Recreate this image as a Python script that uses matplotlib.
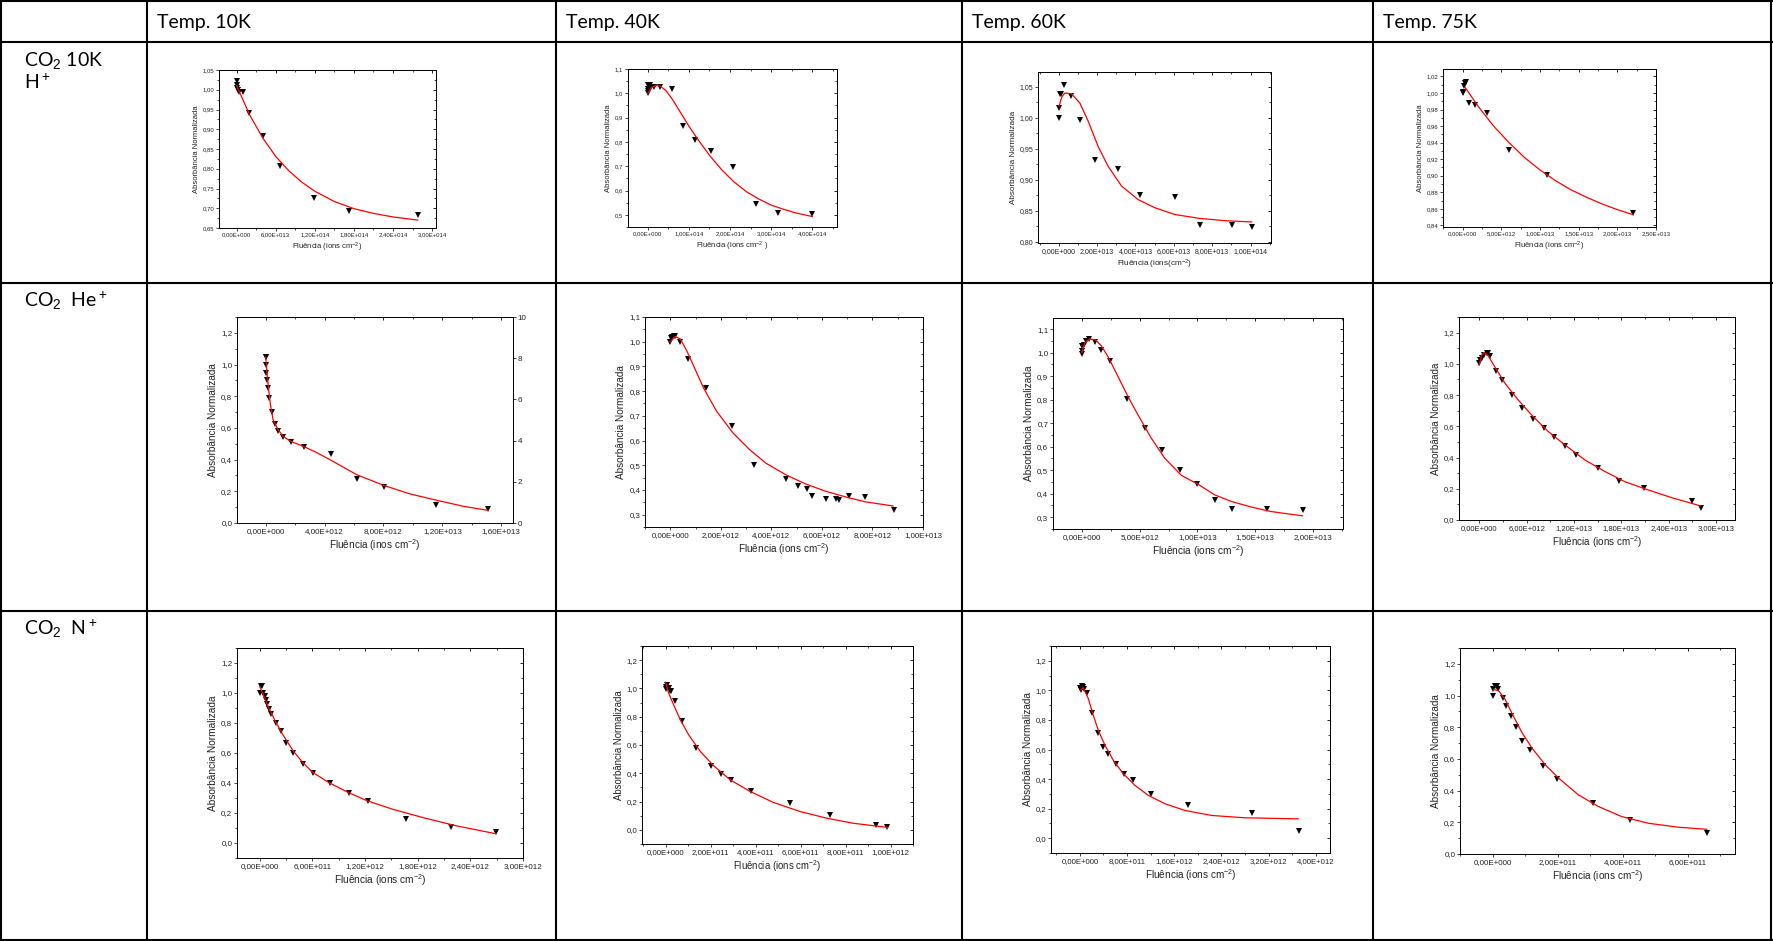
import math
import numpy as np
import matplotlib.pyplot as plt
from matplotlib.ticker import FixedLocator, FuncFormatter, NullFormatter

plt.rcParams['mathtext.fontset'] = 'custom'
plt.rcParams['mathtext.rm'] = 'Liberation Sans'
plt.rcParams['mathtext.it'] = 'Liberation Sans:italic'
plt.rcParams['font.family'] = ['Liberation Sans', 'DejaVu Sans']

W, H = 1773, 941

# ---- table texts ----
col_titles = ["Temp. 10K", "Temp. 40K", "Temp. 60K", "Temp. 75K"]
row_titles = [("CO$_2$ 10K", "H$^+$"), ("CO$_2$  He$^+$", ""), ("CO$_2$  N$^+$", "")]

# ---- CO2 10K H+ ----
x_h10 = [0, 1e12, 0, 1.5e12, 3e12, 9.2e12, 1.95e13, 4.1e13, 6.67e13, 1.19e14, 1.72e14, 2.78e14]
y_h10 = [1.023, 1.012, 1.005, 0.999, 0.995, 0.994, 0.942, 0.884, 0.807, 0.727, 0.694, 0.682]
fx_h10 = [0, 2e13, 4e13, 6e13, 8e13, 1e14, 1.2e14, 1.5e14, 1.8e14, 2.1e14, 2.4e14, 2.78e14]
fy_h10 = [1.01, 0.936, 0.878, 0.831, 0.795, 0.766, 0.743, 0.717, 0.699, 0.687, 0.678, 0.670]

x_h40 = [0, 0, 0, 0, 0.05e14, 0.08e14, 0.15e14, 0.3e14, 0.59e14, 0.85e14, 1.14e14, 1.54e14,
         2.08e14, 2.63e14, 3.17e14, 4.0e14]
y_h40 = [1.035, 1.017, 1.008, 1.001, 1.035, 1.028, 1.028, 1.028, 1.017, 0.866, 0.806, 0.764,
         0.696, 0.543, 0.509, 0.502]
fx_h40 = [0, 0.1e14, 0.2e14, 0.3e14, 0.45e14, 0.6e14, 0.8e14, 1.0e14, 1.2e14, 1.5e14, 1.8e14,
          2.1e14, 2.4e14, 2.7e14, 3.0e14, 3.3e14, 3.6e14, 4.0e14]
fy_h40 = [1.0, 1.025, 1.032, 1.03, 1.01, 0.975, 0.92, 0.865, 0.815, 0.745, 0.685, 0.635, 0.595,
          0.565, 0.54, 0.523, 0.508, 0.493]

x_h60 = [0, 0, 0.05e13, 0.14e13, 0.28e13, 0.63e13, 1.13e13, 1.91e13, 3.1e13, 4.23e13, 6.05e13,
         7.36e13, 9.04e13, 1.009e14]
y_h60 = [0.999, 1.016, 1.038, 1.038, 1.053, 1.036, 0.997, 0.932, 0.918, 0.875, 0.873, 0.827,
         0.827, 0.824]
fx_h60 = [0.02e13, 0.15e13, 0.31e13, 0.66e13, 1.1e13, 1.53e13, 2.05e13, 2.57e13, 3.27e13, 4.14e13,
          5.0e13, 6.05e13, 7.27e13, 8.66e13, 1.005e14]
fy_h60 = [1.019, 1.033, 1.040, 1.039, 1.024, 0.995, 0.954, 0.922, 0.89, 0.868, 0.855, 0.844,
          0.838, 0.834, 0.832]

x_h75 = [0, 0.04e12, 0.13e12, 0.34e12, 0.47e12, 0.86e12, 1.64e12, 3.19e12, 6.03e12, 1.09e13, 2.2e13]
y_h75 = [1.0, 1.001, 1.008, 1.012, 1.013, 0.988, 0.986, 0.976, 0.931, 0.901, 0.855]
fx_h75 = [0.3e12, 2e12, 4e12, 6e12, 8e12, 1e13, 1.2e13, 1.4e13, 1.6e13, 1.8e13, 2.0e13, 2.2e13]
fy_h75 = [1.007, 0.984, 0.960, 0.940, 0.922, 0.907, 0.894, 0.883, 0.874, 0.866, 0.859, 0.853]

# ---- CO2 He+ ----
x_he10 = [0, 0.02e12, 0, 0.05e12, 0.09e12, 0.14e12, 0.23e12, 0.43e12, 0.61e12, 0.82e12, 1.18e12,
          1.73e12, 2.59e12, 4.43e12, 6.18e12, 8.05e12, 1.155e13, 1.51e13]
y_he10 = [1.048, 1.048, 1.0, 0.947, 0.901, 0.85, 0.789, 0.699, 0.627, 0.583, 0.541, 0.512, 0.478,
          0.434, 0.28, 0.225, 0.116, 0.091]
fx_he10 = [0, 0.09e12, 0.2e12, 0.32e12, 0.5e12, 0.84e12, 1.18e12, 1.7e12, 2.55e12, 3.45e12,
           4.36e12, 6.18e12, 8e12, 9.82e12, 1.164e13, 1.345e13, 1.51e13]
fy_he10 = [1.048, 0.947, 0.842, 0.747, 0.653, 0.589, 0.547, 0.515, 0.484, 0.445, 0.40, 0.305,
           0.238, 0.183, 0.143, 0.105, 0.08]

x_he40 = [0, 0.03e12, 0.08e12, 0.16e12, 0.2e12, 0.37e12, 0.72e12, 1.41e12, 2.43e12, 3.31e12,
          4.58e12, 5.05e12, 5.42e12, 5.62e12, 6.18e12, 6.54e12, 6.69e12, 7.08e12, 7.71e12, 8.86e12]
y_he40 = [1.0, 1.014, 1.018, 1.022, 1.022, 1.0, 0.93, 0.814, 0.658, 0.499, 0.444, 0.417, 0.402,
          0.375, 0.365, 0.365, 0.359, 0.375, 0.372, 0.32]
fx_he40 = [0, 0.2e12, 0.39e12, 0.65e12, 0.92e12, 1.31e12, 1.83e12, 2.48e12, 3.14e12, 3.79e12,
           4.58e12, 5.36e12, 6.14e12, 6.93e12, 7.71e12, 8.82e12]
fy_he40 = [1.0, 1.021, 1.012, 0.964, 0.903, 0.814, 0.719, 0.631, 0.563, 0.508, 0.461, 0.424,
           0.395, 0.372, 0.352, 0.335]

x_he60 = [0, 0, 0, 0.17e12, 0.38e12, 0.61e12, 1.1e12, 1.62e12, 2.43e12, 3.93e12, 5.46e12, 6.97e12,
          8.47e12, 1e13, 1.15e13, 1.3e13, 1.6e13, 1.91e13]
y_he60 = [0.995, 1.005, 1.029, 1.032, 1.048, 1.057, 1.046, 1.009, 0.965, 0.804, 0.679, 0.584,
          0.501, 0.442, 0.373, 0.334, 0.334, 0.331]
fx_he60 = [0, 0.23e12, 0.66e12, 1.16e12, 1.68e12, 2.25e12, 3.12e12, 3.99e12, 4.86e12, 6.01e12,
           7.17e12, 8.61e12, 1.006e13, 1.15e13, 1.295e13, 1.468e13, 1.64e13, 1.91e13]
fy_he60 = [1.0, 1.04, 1.057, 1.055, 1.029, 0.984, 0.899, 0.813, 0.735, 0.636, 0.551, 0.478, 0.44,
           0.395, 0.367, 0.343, 0.324, 0.306]

x_he75 = [0, 0.08e12, 0.38e12, 0.63e12, 0.93e12, 1.14e12, 1.39e12, 2.07e12, 2.83e12, 4.1e12,
          5.45e12, 6.84e12, 8.2e12, 9.5e12, 1.086e13, 1.221e13, 1.5e13, 1.774e13, 2.087e13,
          2.7e13, 2.805e13]
y_he75 = [1.003, 1.025, 1.035, 1.057, 1.072, 1.072, 1.05, 0.956, 0.896, 0.8, 0.715, 0.645, 0.587,
          0.534, 0.474, 0.416, 0.331, 0.25, 0.203, 0.124, 0.079]
fx_he75 = [0, 0.3e12, 0.63e12, 1.14e12, 1.99e12, 3.25e12, 4.94e12, 6.63e12, 8.75e12, 1.086e13,
           1.34e13, 1.593e13, 1.846e13, 2.142e13, 2.438e13, 2.805e13]
fy_he75 = [0.993, 1.057, 1.072, 1.05, 0.978, 0.875, 0.768, 0.672, 0.566, 0.48, 0.384, 0.31,
           0.245, 0.192, 0.143, 0.09]

# ---- CO2 N+ ----
x_n10 = [0, 0.11e11, 0.3e11, 0.38e11, 0.57e11, 0.68e11, 0.83e11, 1.06e11, 1.33e11, 1.89e11,
         2.39e11, 3.03e11, 3.79e11, 4.92e11, 6.06e11, 7.95e11, 1.015e12, 1.231e12, 1.667e12,
         2.178e12, 2.689e12]
y_n10 = [1.003, 1.048, 1.048, 0.999, 0.981, 0.954, 0.925, 0.896, 0.858, 0.803, 0.747, 0.669,
         0.602, 0.528, 0.468, 0.401, 0.334, 0.279, 0.161, 0.107, 0.071]
fx_n10 = [0, 0.38e11, 0.95e11, 1.7e11, 2.65e11, 3.79e11, 4.92e11, 6.06e11, 7.95e11, 1.015e12,
          1.231e12, 1.515e12, 1.856e12, 2.235e12, 2.689e12]
fy_n10 = [1.043, 0.99, 0.91, 0.82, 0.72, 0.615, 0.535, 0.47, 0.40, 0.335, 0.28, 0.225, 0.17,
          0.115, 0.062]

x_n40 = [0, 0.03e11, 0.06e11, 0.13e11, 0.21e11, 0.25e11, 0.4e11, 0.72e11, 1.36e11, 2.01e11,
         2.45e11, 2.9e11, 3.78e11, 5.52e11, 7.33e11, 9.34e11, 9.85e11]
y_n40 = [1.011, 0.997, 1.021, 1.004, 0.985, 0.98, 0.91, 0.768, 0.581, 0.449, 0.395, 0.35, 0.272,
         0.189, 0.102, 0.031, 0.019]
fx_n40 = [0, 0.13e11, 0.35e11, 0.65e11, 1.02e11, 1.54e11, 2.13e11, 2.87e11, 3.75e11, 4.79e11,
          5.97e11, 7.15e11, 8.33e11, 9.88e11]
fy_n40 = [1.044, 0.969, 0.886, 0.78, 0.673, 0.555, 0.454, 0.354, 0.272, 0.194, 0.13, 0.083,
          0.047, 0.017]

x_n60 = [0, 0.17e11, 0.28e11, 0.56e11, 0.73e11, 1.13e11, 2.09e11, 3e11, 3.95e11, 4.8e11, 6.05e11,
         7.46e11, 8.93e11, 1.203e12, 1.836e12, 2.921e12, 3.712e12]
y_n60 = [1.019, 1.003, 1.032, 1.026, 1.007, 0.98, 0.844, 0.709, 0.618, 0.568, 0.5, 0.432, 0.392,
         0.301, 0.222, 0.17, 0.052]
fx_n60 = [0.17e11, 0.56e11, 1.41e11, 2.26e11, 3.11e11, 4.24e11, 5.65e11, 7.34e11, 9.32e11,
          1.158e12, 1.441e12, 1.78e12, 2.232e12, 2.797e12, 3.701e12]
fy_n60 = [1.003, 1.019, 0.946, 0.833, 0.731, 0.629, 0.528, 0.437, 0.358, 0.29, 0.233, 0.188,
          0.154, 0.138, 0.131]

x_n75 = [0, 0.01e11, 0.08e11, 0.14e11, 0.18e11, 0.31e11, 0.41e11, 0.57e11, 0.73e11, 0.9e11,
         1.16e11, 1.54e11, 1.98e11, 3.1e11, 4.21e11, 6.6e11]
y_n75 = [1.0, 1.044, 1.059, 1.059, 1.042, 0.985, 0.937, 0.873, 0.8, 0.715, 0.658, 0.553, 0.473,
         0.321, 0.215, 0.131]
fx_n75 = [0.03e11, 0.18e11, 0.39e11, 0.59e11, 0.9e11, 1.21e11, 1.62e11, 2.03e11, 2.64e11,
          3.25e11, 3.97e11, 4.79e11, 5.71e11, 6.58e11]
fy_n75 = [1.038, 1.032, 0.975, 0.89, 0.768, 0.669, 0.563, 0.479, 0.373, 0.3, 0.236, 0.194, 0.169,
          0.156]

# ---- tick values ----
xt_h10 = [0, 6e13, 1.2e14, 1.8e14, 2.4e14, 3e14]
xt_h40 = [0, 1e14, 2e14, 3e14, 4e14]
xt_h60 = [0, 2e13, 4e13, 6e13, 8e13, 1e14]
xt_h75 = [0, 5e12, 1e13, 1.5e13, 2e13, 2.5e13]
xt_he10 = [0, 4e12, 8e12, 1.2e13, 1.6e13]
xt_he40 = [0, 2e12, 4e12, 6e12, 8e12, 1e13]
xt_he60 = [0, 5e12, 1e13, 1.5e13, 2e13]
xt_he75 = [0, 6e12, 1.2e13, 1.8e13, 2.4e13, 3e13]
xt_n10 = [0, 6e11, 1.2e12, 1.8e12, 2.4e12, 3e12]
xt_n40 = [0, 2e11, 4e11, 6e11, 8e11, 1e12]
xt_n60 = [0, 8e11, 1.6e12, 2.4e12, 3.2e12, 4e12]
xt_n75 = [0, 2e11, 4e11, 6e11]

yt_h10 = [0.65, 0.70, 0.75, 0.80, 0.85, 0.90, 0.95, 1.00, 1.05]
yt_h40 = [0.5, 0.6, 0.7, 0.8, 0.9, 1.0, 1.1]
yt_h60 = [0.80, 0.85, 0.90, 0.95, 1.00, 1.05]
yt_h75 = [0.84, 0.86, 0.88, 0.90, 0.92, 0.94, 0.96, 0.98, 1.00, 1.02]
yt_a = [0.0, 0.2, 0.4, 0.6, 0.8, 1.0, 1.2]
yt_b = [0.3, 0.4, 0.5, 0.6, 0.7, 0.8, 0.9, 1.0, 1.1]
yt_right_he10 = [0, 2, 4, 6, 8, 10]

lab_y = "Absorbância Normalizada"
lab_x = "Fluência (ions cm$^{-2}$)"

# panel: data, axes box in pixels (left, right, top, bottom), limits, ticks, fonts
panels = [
    dict(d=(x_h10, y_h10, fx_h10, fy_h10), box=(219, 436, 70, 228), xl=(-2.72e13, 3.06e14),
         yl=(0.65, 1.05), xt=xt_h10, yt=yt_h10, dec=2, xlab=lab_x, fs=4.3, ls=5.5, ms=3.8),
    dict(d=(x_h40, y_h40, fx_h40, fy_h40), box=(628, 837, 69, 227), xl=(-4.8e13, 4.6e14),
         yl=(0.45, 1.1), xt=xt_h40, yt=yt_h40, dec=1, xlab="Fluência (ions cm$^{-2}$ )",
         fs=4.3, ls=5.5, ms=3.8),
    dict(d=(x_h60, y_h60, fx_h60, fy_h60), box=(1038, 1271, 72, 243), xl=(-1.08e13, 1.106e14),
         yl=(0.798, 1.074), xt=xt_h60, yt=yt_h60, dec=2, xlab="Fluência (ions(cm$^{-2}$)",
         fs=5.0, ls=5.9, ms=4.3),
    dict(d=(x_h75, y_h75, fx_h75, fy_h75), box=(1443, 1656, 69, 227), xl=(-2.54e12, 2.5e13),
         yl=(0.838, 1.029), xt=xt_h75, yt=yt_h75, dec=2, xlab=lab_x, fs=4.3, ls=5.5, ms=3.8),
    dict(d=(x_he10, y_he10, fx_he10, fy_he10), box=(237, 513, 317, 523), xl=(-1.95e12, 1.68e13),
         yl=(0.0, 1.3), xt=xt_he10, yt=yt_a, dec=1, xlab="Fluência (inos cm$^{-2}$)",
         fs=5.8, ls=7.2, ms=5.0, right=yt_right_he10),
    dict(d=(x_he40, y_he40, fx_he40, fy_he40), box=(645, 923, 317, 527), xl=(-1e12, 1e13),
         yl=(0.25, 1.1), xt=xt_he40, yt=yt_b, dec=1, xlab=lab_x, fs=5.7, ls=7.2, ms=5.0),
    dict(d=(x_he60, y_he60, fx_he60, fy_he60), box=(1053, 1343, 318, 529), xl=(-2.5e12, 2.26e13),
         yl=(0.25, 1.147), xt=xt_he60, yt=yt_b, dec=1, xlab=lab_x, fs=5.8, ls=7.3, ms=5.0),
    dict(d=(x_he75, y_he75, fx_he75, fy_he75), box=(1459, 1735, 317, 520), xl=(-2.58e12, 3.24e13),
         yl=(0.0, 1.3), xt=xt_he75, yt=yt_a, dec=1, xlab=lab_x, fs=5.5, ls=7.1, ms=5.0),
    dict(d=(x_n10, y_n10, fx_n10, fy_n10), box=(237, 523, 648, 858), xl=(-2.6e11, 3e12),
         yl=(-0.1, 1.3), xt=xt_n10, yt=yt_a, dec=1, xlab=lab_x, fs=5.8, ls=7.3, ms=5.0),
    dict(d=(x_n40, y_n40, fx_n40, fy_n40), box=(642, 913, 646, 844), xl=(-1.05e11, 1.1e12),
         yl=(-0.1, 1.3), xt=xt_n40, yt=yt_a, dec=1, xlab=lab_x, fs=5.7, ls=6.9, ms=5.0),
    dict(d=(x_n60, y_n60, fx_n60, fy_n60), box=(1051, 1330, 646, 853), xl=(-4.9e11, 4.24e12),
         yl=(-0.1, 1.3), xt=xt_n60, yt=yt_a, dec=1, xlab=lab_x, fs=5.6, ls=7.2, ms=5.0),
    dict(d=(x_n75, y_n75, fx_n75, fy_n75), box=(1460, 1735, 648, 854), xl=(-1e11, 7.45e11),
         yl=(0.0, 1.3), xt=xt_n75, yt=yt_a, dec=1, xlab=lab_x, fs=5.8, ls=7.2, ms=5.0),
]


def sci_comma(v, pos=None):
    if abs(v) < 1e-30:
        return "0,00E+000"
    e = int(math.floor(math.log10(abs(v))))
    m = v / 10 ** e
    if round(m, 2) >= 10:
        m /= 10
        e += 1
    return f"{m:.2f}".replace('.', ',') + f"E+{e:03d}"


def dec_comma(n):
    return FuncFormatter(lambda v, pos: f"{v:.{n}f}".replace('.', ','))


def minors(ticks):
    step = ticks[1] - ticks[0]
    return [t + step / 2 for t in [ticks[0] - step] + list(ticks)]


fig = plt.figure(figsize=(W / 100, H / 100), dpi=100)

# table grid
tab = fig.add_axes([0, 0, 1, 1])
tab.set_xlim(0, W)
tab.set_ylim(H, 0)
tab.axis('off')
col_x = [1, 147, 556, 962, 1373, 1771]
row_y = [1, 42, 283, 611, 940]
tab.vlines(col_x, 0, H, color='black', lw=1.5)
tab.hlines(row_y, 0, W, color='black', lw=1.5)
for i, t in enumerate(col_titles):
    tab.text(col_x[i + 1] + 10, 22, t, fontsize=14, family=['Lato', 'DejaVu Sans'],
             va='center', ha='left')
for i, (a, b) in enumerate(row_titles):
    tab.text(24, row_y[i + 1] + 18, a, fontsize=14, family=['Lato', 'DejaVu Sans'],
             va='center', ha='left')
    if b:
        tab.text(24, row_y[i + 1] + 40, b, fontsize=14, family=['Lato', 'DejaVu Sans'],
                 va='center', ha='left')

txt = '#222222'
for p in panels:
    l, r, t, b = p['box']
    ax = fig.add_axes([l / W, 1 - b / H, (r - l) / W, (b - t) / H])
    xs, ys, fxs, fys = p['d']
    ax.plot(xs, ys, 'v', color='black', ms=p['ms'], mew=0)
    ax.plot(fxs, fys, '-', color='red', lw=0.9)
    ax.set_xlim(*p['xl'])
    ax.set_ylim(*p['yl'])
    ax.xaxis.set_major_locator(FixedLocator(p['xt']))
    ax.xaxis.set_minor_locator(FixedLocator(minors(p['xt'])))
    ax.yaxis.set_major_locator(FixedLocator(p['yt']))
    ax.yaxis.set_minor_locator(FixedLocator(minors(p['yt'])))
    ax.xaxis.set_major_formatter(FuncFormatter(sci_comma))
    ax.yaxis.set_major_formatter(dec_comma(p['dec']))
    ax.tick_params(which='major', direction='out', length=2.2, width=0.6, pad=1.2,
                   labelsize=p['fs'], colors=txt)
    ax.tick_params(which='minor', direction='out', length=1.2, width=0.5)
    for s in ax.spines.values():
        s.set_linewidth(0.7)
    ax.set_xlabel(p['xlab'], fontsize=p['ls'], color=txt, labelpad=2)
    ax.set_ylabel(lab_y, fontsize=p['ls'], color=txt, labelpad=2)

    top = ax.secondary_xaxis('top')
    top.xaxis.set_major_locator(FixedLocator(p['xt']))
    top.xaxis.set_minor_locator(FixedLocator(minors(p['xt'])))
    top.xaxis.set_major_formatter(NullFormatter())
    top.tick_params(which='major', direction='in', length=2.2, width=0.6)
    top.tick_params(which='minor', direction='in', length=1.2, width=0.5)
    top.spines['top'].set_linewidth(0.7)

    if 'right' in p:
        k = p['right'][-1] / p['yl'][1]
        rax = ax.secondary_yaxis('right', functions=(lambda y, k=k: y * k, lambda v, k=k: v / k))
        rax.yaxis.set_major_locator(FixedLocator(p['right']))
        rax.yaxis.set_major_formatter(FuncFormatter(lambda v, pos: f"{v:g}"))
        rax.tick_params(which='major', direction='out', length=2.2, width=0.6, pad=1.2,
                        labelsize=p['fs'], colors=txt)
        rax.spines['right'].set_linewidth(0.7)
    else:
        rax = ax.secondary_yaxis('right')
        rax.yaxis.set_major_locator(FixedLocator(p['yt']))
        rax.yaxis.set_minor_locator(FixedLocator(minors(p['yt'])))
        rax.yaxis.set_major_formatter(NullFormatter())
        rax.tick_params(which='major', direction='in', length=2.2, width=0.6)
        rax.tick_params(which='minor', direction='in', length=1.2, width=0.5)
        rax.spines['right'].set_linewidth(0.7)

fig.savefig('out.png', dpi=100)
